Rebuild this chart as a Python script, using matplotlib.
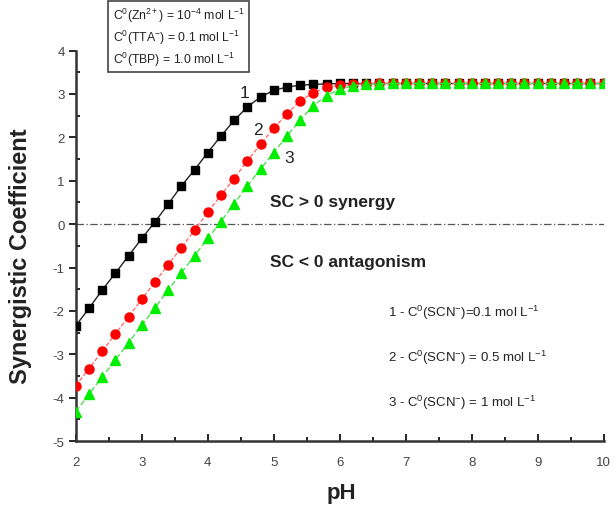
import numpy as np
import matplotlib
matplotlib.use("Agg")
import matplotlib.pyplot as plt
from matplotlib.ticker import MultipleLocator

plt.rcParams["font.family"] = ["Liberation Sans", "DejaVu Sans"]
plt.rcParams["mathtext.fontset"] = "custom"
plt.rcParams["mathtext.rm"] = "Liberation Sans"
plt.rcParams["mathtext.it"] = "Liberation Sans:italic"
plt.rcParams["mathtext.bf"] = "Liberation Sans:bold"
plt.rcParams["axes.unicode_minus"] = False

# pH grid (step 0.2)
ph = np.round(np.arange(2.0, 10.01, 0.2), 1)

# SC values
sc_1 = [-2.34, -1.94, -1.52, -1.13, -0.73, -0.33, 0.05, 0.46, 0.88, 1.25,
        1.65, 2.03, 2.39, 2.70, 2.93, 3.08, 3.16, 3.20, 3.22, 3.23] + [3.24] * 21
sc_2 = [-3.72, -3.33, -2.93, -2.53, -2.13, -1.73, -1.33, -0.94, -0.54, -0.14,
        0.27, 0.67, 1.05, 1.46, 1.84, 2.21, 2.54, 2.84, 3.03, 3.15,
        3.20, 3.22, 3.23] + [3.24] * 18
sc_3 = [-4.32, -3.92, -3.52, -3.13, -2.73, -2.33, -1.93, -1.52, -1.12, -0.73,
        -0.33, 0.06, 0.47, 0.88, 1.27, 1.65, 2.03, 2.40, 2.73, 2.96,
        3.11, 3.19, 3.22, 3.23] + [3.24] * 17

legendes = [r"1 - C$^0$(SCN$^{-}$)=0.1 mol L$^{-1}$",
            r"2 - C$^0$(SCN$^{-}$) = 0.5 mol L$^{-1}$",
            r"3 - C$^0$(SCN$^{-}$) = 1 mol L$^{-1}$"]
conditions = (r"C$^0$(Zn$^{2+}$) = 10$^{-4}$ mol L$^{-1}$" "\n"
              r"C$^0$(TTA$^{-}$) = 0.1 mol L$^{-1}$" "\n"
              r"C$^0$(TBP) = 1.0 mol L$^{-1}$")

fig = plt.figure(figsize=(6.16, 5.10), dpi=100)
ax = fig.add_axes([0.123, 0.133, 0.857, 0.766])

ax.axhline(0, color="#555555", lw=0.9, ls=(0, (6, 2, 1, 2)), zorder=1)

ax.plot(ph, sc_1, color="#222222", lw=1, marker="s", ms=5.5,
        mfc="black", mec="black", zorder=3)
ax.plot(ph, sc_2, color="#ff7070", lw=1, ls=(0, (3, 1.5)), marker="o", ms=6.5,
        mfc="red", mec="red", zorder=4)
ax.plot(ph, sc_3, color="#55dd55", lw=1, ls=(0, (4, 2)), marker="^", ms=6.5,
        mfc="#00ee00", mec="#00ee00", zorder=5)

# numéros des courbes
ax.text(4.56, 3.04, "1", fontsize=12.5, ha="center", va="center", color="#222222")
ax.text(4.76, 2.19, "2", fontsize=12.5, ha="center", va="center", color="#222222")
ax.text(5.24, 1.54, "3", fontsize=12.5, ha="center", va="center", color="#222222")

ax.text(4.94, 0.51, "SC > 0 synergy", fontsize=12.5, fontweight="bold",
        ha="left", va="center", color="#222222")
ax.text(4.94, -0.85, "SC < 0 antagonism", fontsize=12.5, fontweight="bold",
        ha="left", va="center", color="#222222")

for y, txt in zip([-2.03, -3.06, -4.10], legendes):
    ax.text(6.73, y, txt, fontsize=9.5, ha="left", va="center", color="#222222")

fig.text(0.183, 0.987, conditions, fontsize=8.8, ha="left", va="top",
         linespacing=1.3, color="#222222",
         bbox=dict(boxstyle="square,pad=0.35", fc="white", ec="#444444", lw=1.2))

ax.set_xlim(2, 10)
ax.set_ylim(-5, 4)
ax.xaxis.set_major_locator(MultipleLocator(1))
ax.xaxis.set_minor_locator(MultipleLocator(0.5))
ax.yaxis.set_major_locator(MultipleLocator(1))
ax.yaxis.set_minor_locator(MultipleLocator(0.5))
ax.tick_params(axis="x", which="major", direction="in", length=5, width=1.2,
               labelsize=9.5, pad=11, labelcolor="#444444")
ax.tick_params(axis="x", which="minor", direction="in", length=3, width=1.2)
ax.tick_params(axis="y", which="major", direction="out", length=5, width=1.2,
               labelsize=9.5, pad=3, labelcolor="#444444")
ax.tick_params(axis="y", which="minor", direction="in", length=3, width=1.2)

for cote in ["top", "right"]:
    ax.spines[cote].set_visible(False)
for cote in ["left", "bottom"]:
    ax.spines[cote].set_linewidth(1.8)
    ax.spines[cote].set_color("#333333")

ax.set_xlabel("pH", fontsize=16, fontweight="bold", color="#222222")
ax.xaxis.set_label_coords(0.504, -0.105)
ax.set_ylabel("Synergistic Coefficient", fontsize=17, fontweight="bold",
              color="#222222")
ax.yaxis.set_label_coords(-0.083, 0.475)

fig.savefig("out.png", dpi=100)
